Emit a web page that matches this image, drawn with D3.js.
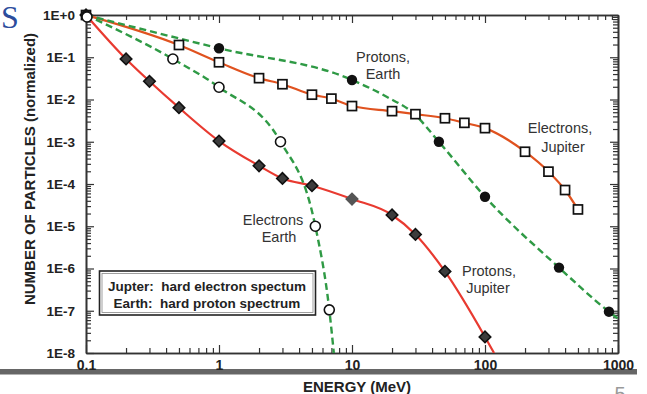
<!DOCTYPE html>
<html><head><meta charset="utf-8">
<script src="https://cdn.jsdelivr.net/npm/d3@7"></script>
<style>
html,body{margin:0;padding:0;background:#fff;}
svg{display:block;font-family:"Liberation Sans",Arial,sans-serif;}
</style></head>
<body>
<svg id="c" width="647" height="394"></svg>
<script>
// ---- data (energy in MeV, normalized particle counts) ----
const protonsEarthE = [0.1, 1, 10, 45, 100, 360, 855];
const protonsEarthN = [1, 0.163, 0.029, 1.0e-3, 5.0e-5, 1.05e-6, 9.5e-8];
const protonsEarthCurveE = [0.1, 1, 10, 18.2, 28.8, 45, 100, 360, 855, 1000];
const protonsEarthCurveN = [1, 0.163, 0.029, 0.0116, 0.0048, 1.0e-3, 5.0e-5, 1.05e-6, 9.5e-8, 6.5e-8];

const electronsEarthE = [0.1, 0.45, 1, 2.9, 5.3, 6.75];
const electronsEarthN = [1, 0.091, 0.0195, 1.0e-3, 1.0e-5, 1.05e-7];
const electronsEarthCurveE = [0.1, 0.45, 1, 2.9, 5.3, 6.75, 7.3];
const electronsEarthCurveN = [1, 0.091, 0.0195, 1.0e-3, 1.0e-5, 1.05e-7, 1e-8];

const electronsJupiterE = [0.1, 0.5, 1, 2, 3, 5, 7, 10, 20, 30, 50, 70, 100, 200, 300, 400, 500];
const electronsJupiterN = [1, 0.195, 0.076, 0.032, 0.023, 0.013, 0.0105, 0.0070, 0.0053, 0.0045, 0.0036, 0.0028, 0.0021, 5.8e-4, 1.96e-4, 7.2e-5, 2.5e-5];

const protonsJupiterE = [0.1, 0.2, 0.3, 0.5, 1, 2, 3, 5, 10, 20, 30, 50, 100];
const protonsJupiterN = [1, 0.091, 0.027, 0.0064, 1.04e-3, 2.7e-4, 1.35e-4, 9.1e-5, 4.4e-5, 1.85e-5, 6.4e-6, 8.5e-7, 2.4e-8];
const protonsJupiterCurveE = protonsJupiterE.concat([117]);
const protonsJupiterCurveN = protonsJupiterN.concat([1e-8]);

const xTickValues = [0.1, 1, 10, 100, 1000];
const xTickLabels = ["0.1", "1", "10", "100", "1000"];
const yTickValues = [1e-8, 1e-7, 1e-6, 1e-5, 1e-4, 1e-3, 1e-2, 1e-1, 1];
const yTickLabels = ["1E-8", "1E-7", "1E-6", "1E-5", "1E-4", "1E-3", "1E-2", "1E-1", "1E+0"];

const xTitle = "ENERGY (MeV)";
const yTitle = "NUMBER OF PARTICLES (normalized)";
const legendLines = ["Jupter:  hard electron spectum", "Earth:  hard proton spectrum"];

// ---- layout ----
const L = 86, R = 618, T = 15, B = 353;
const svg = d3.select("#c");
const x = d3.scaleLog().domain([0.1, 1000]).range([L, R]);
const y = d3.scaleLog().domain([1e-8, 1]).range([B, T]);

const zip = (a, b) => a.map((v, i) => [v, b[i]]);

// slide decorations
svg.append("text").attr("x", 1).attr("y", 28).attr("font-family", "'Liberation Serif','DejaVu Serif',serif")
  .attr("font-size", 32).attr("fill", "#2c4c9c").text("S");
svg.append("rect").attr("x", 0).attr("y", 369).attr("width", 637).attr("height", 5.5).attr("fill", "#666");
svg.append("text").attr("x", 620).attr("y", 401).attr("text-anchor", "middle").attr("font-size", 20)
  .attr("fill", "#9a9a9a").text("5");

// clip
svg.append("clipPath").attr("id", "clip").append("rect").attr("x", L).attr("y", T).attr("width", R - L).attr("height", B - T);

// axes
const xMinor = x.ticks().filter(v => !xTickValues.some(t => Math.abs(t - v) / t < 1e-6));
const yMinor = y.ticks().filter(v => !yTickValues.some(t => Math.abs(t - v) / t < 1e-6));

function styleAxis(g) {
  g.selectAll(".domain").attr("stroke", "#333").attr("stroke-width", 1.6);
  g.selectAll(".tick line").attr("stroke", "#333").attr("stroke-width", 1.2);
}
// minor ticks
svg.append("g").attr("transform", `translate(0,${B})`).call(d3.axisBottom(x).tickValues(xMinor).tickSize(-5).tickSizeOuter(0).tickFormat("")).call(styleAxis);
svg.append("g").attr("transform", `translate(0,${T})`).call(d3.axisTop(x).tickValues(xMinor).tickSize(-5).tickSizeOuter(0).tickFormat("")).call(styleAxis);
svg.append("g").attr("transform", `translate(${L},0)`).call(d3.axisLeft(y).tickValues(yMinor).tickSize(-5).tickSizeOuter(0).tickFormat("")).call(styleAxis);
svg.append("g").attr("transform", `translate(${R},0)`).call(d3.axisRight(y).tickValues(yMinor).tickSize(-5).tickSizeOuter(0).tickFormat("")).call(styleAxis);
// major ticks
const xb = svg.append("g").attr("transform", `translate(0,${B})`)
  .call(d3.axisBottom(x).tickValues(xTickValues).tickSize(-8).tickSizeOuter(0).tickPadding(0).tickFormat((d, i) => xTickLabels[i])).call(styleAxis);
xb.selectAll(".tick text").attr("y", 17).attr("dy", 0).attr("font-size", 14).attr("font-weight", "bold")
  .attr("font-family", "'Liberation Sans',Arial,sans-serif").attr("fill", "#222");
svg.append("g").attr("transform", `translate(0,${T})`).call(d3.axisTop(x).tickValues(xTickValues).tickSize(-8).tickSizeOuter(0).tickFormat("")).call(styleAxis);
const yl = svg.append("g").attr("transform", `translate(${L},0)`)
  .call(d3.axisLeft(y).tickValues(yTickValues).tickSize(-8).tickSizeOuter(0).tickPadding(0).tickFormat((d, i) => yTickLabels[i])).call(styleAxis);
yl.selectAll(".tick text").attr("x", -11).attr("font-size", 13.5).attr("font-weight", "bold")
  .attr("font-family", "'Liberation Sans',Arial,sans-serif").attr("fill", "#222");
svg.append("g").attr("transform", `translate(${R},0)`).call(d3.axisRight(y).tickValues(yTickValues).tickSize(-8).tickSizeOuter(0).tickFormat("")).call(styleAxis);

// axis titles
svg.append("text").attr("x", 357).attr("y", 392).attr("text-anchor", "middle").attr("font-size", 15)
  .attr("font-weight", "bold").attr("fill", "#222").text(xTitle);
svg.append("text").attr("transform", "translate(35,169) rotate(-90)").attr("text-anchor", "middle")
  .attr("font-size", 15).attr("font-weight", "bold").attr("fill", "#222").text(yTitle);

// lines
const line = d3.line().x(d => x(d[0])).y(d => y(d[1])).curve(d3.curveMonotoneX);
const plot = svg.append("g").attr("clip-path", "url(#clip)");
const GREEN = "#2f9a45", RED = "#e83a30", ORANGE = "#e0521f";
plot.append("path").attr("d", line(zip(electronsJupiterE, electronsJupiterN))).attr("fill", "none").attr("stroke", ORANGE).attr("stroke-width", 2.2);
plot.append("path").attr("d", line(zip(protonsJupiterCurveE, protonsJupiterCurveN))).attr("fill", "none").attr("stroke", RED).attr("stroke-width", 2.2);
plot.append("path").attr("d", line(zip(protonsEarthCurveE, protonsEarthCurveN))).attr("fill", "none").attr("stroke", GREEN).attr("stroke-width", 2.4).attr("stroke-dasharray", "7,4");
plot.append("path").attr("d", line(zip(electronsEarthCurveE, electronsEarthCurveN))).attr("fill", "none").attr("stroke", GREEN).attr("stroke-width", 2.4).attr("stroke-dasharray", "7,4");

// markers
const pj = zip(protonsJupiterE, protonsJupiterN);
svg.append("g").selectAll("path").data(pj).join("path")
  .attr("d", d3.symbol(d3.symbolSquare, 66)())
  .attr("transform", d => `translate(${x(d[0])},${y(d[1])}) rotate(45)`)
  .attr("fill", d => d[0] === 10 ? "#555" : "#3c3c3c")
  .attr("stroke", d => d[0] === 10 ? "#555" : "#111").attr("stroke-width", 1.6);
const ej = zip(electronsJupiterE, electronsJupiterN);
svg.append("g").selectAll("rect").data(ej).join("rect")
  .attr("x", d => x(d[0]) - 4.5).attr("y", d => y(d[1]) - 4.5).attr("width", 9).attr("height", 9)
  .attr("fill", "#fff").attr("stroke", "#111").attr("stroke-width", 1.7);
svg.append("g").selectAll("circle").data(zip(protonsEarthE, protonsEarthN)).join("circle")
  .attr("cx", d => x(d[0])).attr("cy", d => y(d[1])).attr("r", 5.2).attr("fill", "#111");
svg.append("g").selectAll("circle").data(zip(electronsEarthE, electronsEarthN)).join("circle")
  .attr("cx", d => x(d[0]) + (d[0] === 0.1 ? 1 : 0)).attr("cy", d => y(d[1]) + (d[0] === 0.1 ? 2 : 0)).attr("r", 5)
  .attr("fill", "#fff").attr("stroke", "#111").attr("stroke-width", 1.6);

// series labels
const labels = [
  {t: "Protons,", x: 383, y: 62}, {t: "Earth", x: 383, y: 79},
  {t: "Electrons,", x: 560, y: 133}, {t: "Jupiter", x: 563, y: 152},
  {t: "Electrons", x: 273, y: 225}, {t: "Earth", x: 279, y: 242},
  {t: "Protons,", x: 489, y: 276}, {t: "Jupiter", x: 488, y: 293}
];
svg.append("g").selectAll("text").data(labels).join("text")
  .attr("x", d => d.x).attr("y", d => d.y).attr("text-anchor", "middle").attr("font-size", 14.5)
  .attr("fill", "#333").text(d => d.t);

// legend box
const lg = svg.append("g");
lg.append("rect").attr("x", 99.5).attr("y", 271).attr("width", 216).attr("height", 44).attr("fill", "#fff")
  .attr("stroke", "#222").attr("stroke-width", 1.6);
lg.append("rect").attr("x", 102).attr("y", 273.5).attr("width", 211).attr("height", 39).attr("fill", "none")
  .attr("stroke", "#888").attr("stroke-width", 0.8);
lg.selectAll("text.l").data(legendLines).join("text").attr("class", "l")
  .attr("x", 207).attr("y", (d, i) => 291 + i * 16.5).attr("text-anchor", "middle")
  .attr("font-size", 13.5).attr("font-weight", "bold").attr("fill", "#222").attr("xml:space", "preserve")
  .style("white-space", "pre").text(d => d);
</script>
</body></html>
